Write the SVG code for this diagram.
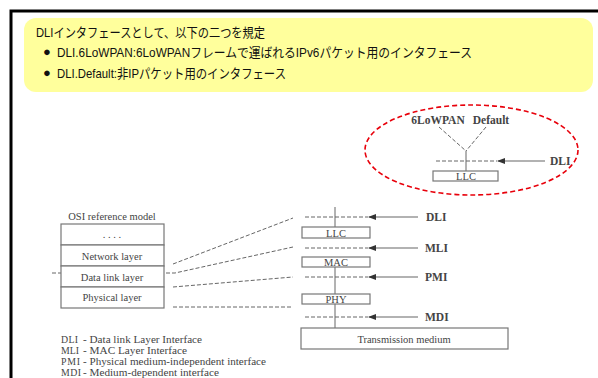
<svg xmlns="http://www.w3.org/2000/svg" width="598" height="378" viewBox="0 0 598 378">
<defs>
<style>
.jp{font-family:"Liberation Sans","Noto Sans CJK JP",sans-serif;font-size:13px;fill:#111}
.sf{font-family:"Liberation Serif",serif;fill:#444}
.lbl{font-size:10.5px;text-anchor:middle}
.bold{font-weight:bold;font-size:11.5px}
.leg{font-size:9.8px}
.box{fill:#fff;stroke:#777;stroke-width:1.2}
.dash{stroke:#666;stroke-width:1;stroke-dasharray:4,2;fill:none}
.solid{stroke:#666;stroke-width:1;fill:none}
.arr{stroke:#666;stroke-width:1.2;fill:none;marker-end:url(#ah)}
</style>
<marker id="ah" markerWidth="8" markerHeight="6" refX="7" refY="3" orient="auto" markerUnits="userSpaceOnUse">
<path d="M0,0 L8,3 L0,6 z" fill="#333"/>
</marker>
</defs>
<rect width="598" height="378" fill="#fff"/>
<g id="frame">
<path d="M11,378 V11 H598" fill="none" stroke="#000" stroke-width="3"/>
</g>
<g id="note">
<rect x="24" y="18" width="569" height="74" rx="12" fill="#ffff9c"/>
<text class="jp" x="36" y="37" textLength="229" lengthAdjust="spacingAndGlyphs">DLIインタフェースとして、以下の二つを規定</text>
<text class="jp" x="43" y="56" font-size="11">●</text>
<text class="jp" x="57" y="57" textLength="415" lengthAdjust="spacingAndGlyphs">DLI.6LoWPAN:6LoWPANフレームで運ばれるIPv6パケット用のインタフェース</text>
<text class="jp" x="43" y="77" font-size="11">●</text>
<text class="jp" x="57" y="78" textLength="229" lengthAdjust="spacingAndGlyphs">DLI.Default:非IPパケット用のインタフェース</text>
</g>
<g id="connectors">
<path class="dash" d="M439,127 L466,151 M486,127 L466,151"/>
<path class="solid" d="M466,151 V171"/>
<path class="dash" d="M436,161 H497"/>
<path class="arr" d="M545,161 H498"/>
<path class="solid" d="M335,207 V227 M335,267 V294 M335,304 V328"/>
<path class="dash" d="M305,217 H368 M305,248 H368 M305,277 H368 M305,317 H368"/>
<path class="arr" d="M418,217 H369"/>
<path class="arr" d="M418,248 H369"/>
<path class="arr" d="M418,277 H369"/>
<path class="arr" d="M418,317 H369"/>
<path class="dash" d="M173,264 L293,218 M52,273 H175 L293,247 M173,287 L293,277 M173,307 H293"/>
</g>
<g id="zoom-ellipse">
<ellipse cx="471.5" cy="150" rx="106.5" ry="45" fill="none" stroke="#e8000b" stroke-width="1.6" stroke-dasharray="5,3"/>
<text class="sf bold" x="438" y="124" text-anchor="middle" font-size="10">6LoWPAN</text>
<text class="sf bold" x="491" y="124" text-anchor="middle" font-size="10">Default</text>
<text class="sf bold" x="550" y="165">DLI</text>
</g>
<g id="llc-small">
<rect class="box" x="433" y="171" width="65" height="10"/>
<text class="sf lbl" x="466" y="180" font-size="10">LLC</text>
</g>
<g id="osi">
<text class="sf lbl" x="112" y="220" font-size="11">OSI reference model</text>
<rect class="box" x="61" y="224" width="103" height="21"/>
<rect class="box" x="61" y="245" width="103" height="21"/>
<rect class="box" x="61" y="266" width="103" height="21"/>
<rect class="box" x="61" y="287" width="103" height="21"/>
<text class="sf lbl" x="112" y="238">. . . .</text>
<text class="sf lbl" x="112" y="260">Network layer</text>
<text class="sf lbl" x="112" y="281">Data link layer</text>
<text class="sf lbl" x="112" y="301">Physical layer</text>
</g>
<g id="llc">
<rect class="box" x="302" y="227" width="68" height="11"/>
<text class="sf lbl" x="336" y="237">LLC</text>
</g>
<g id="mac">
<rect class="box" x="302" y="257" width="68" height="10"/>
<text class="sf lbl" x="336" y="266">MAC</text>
</g>
<g id="phy">
<rect class="box" x="302" y="294" width="68" height="10"/>
<text class="sf lbl" x="336" y="303">PHY</text>
</g>
<g id="medium">
<rect class="box" x="301" y="328" width="207" height="21"/>
<text class="sf lbl" x="404" y="343" font-size="11">Transmission medium</text>
</g>
<g id="labels">
<text class="sf bold" x="426" y="221">DLI</text>
<text class="sf bold" x="425" y="252">MLI</text>
<text class="sf bold" x="425" y="281">PMI</text>
<text class="sf bold" x="425" y="321">MDI</text>
</g>
<g id="legend" class="sf leg">
<text x="61" y="343" textLength="17">DLI</text>
<text x="83" y="343" textLength="119" lengthAdjust="spacingAndGlyphs">- Data link  Layer Interface</text>
<text x="61" y="354" textLength="18">MLI</text>
<text x="83" y="354" textLength="104" lengthAdjust="spacingAndGlyphs">- MAC Layer  Interface</text>
<text x="61" y="365" textLength="19">PMI</text>
<text x="83" y="365" textLength="183" lengthAdjust="spacingAndGlyphs">- Physical medium-independent  interface</text>
<text x="61" y="376" textLength="20">MDI</text>
<text x="83" y="376" textLength="136" lengthAdjust="spacingAndGlyphs">- Medium-dependent interface</text>
</g>
</svg>
